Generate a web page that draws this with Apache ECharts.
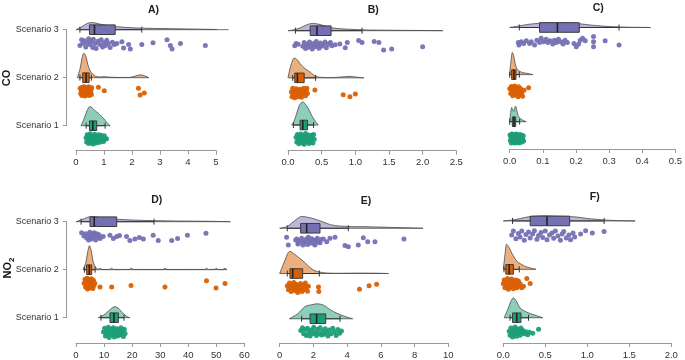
<!DOCTYPE html>
<html>
<head>
<meta charset="utf-8">
<script src="https://cdn.jsdelivr.net/npm/echarts@6/dist/echarts.min.js"></script>
<style>html,body{margin:0;padding:0;background:#fff}#c{width:685px;height:360px}</style>
</head>
<body>
<div id="c"></div>
<script>
// ---------------- DATA ----------------
const scenarios = ['Scenario 1', 'Scenario 2', 'Scenario 3'];
const panelKeys = ['A', 'B', 'C', 'D', 'E', 'F'];
const panelTitles = ['A)', 'B)', 'C)', 'D)', 'E)', 'F)'];
const rowTitles = ['CO', 'NO2'];
const xMax = [5, 2.5, 0.5, 60, 10, 2];
const xStep = [1, 0.5, 0.1, 10, 2, 0.5];
const xDecimals = [0, 1, 1, 0, 0, 1];

// half-violin density profiles: [x, height in category units]
const violinA3 = [[0,0],[0.2,0.06],[0.4,0.13],[0.55,0.15],[0.7,0.14],[0.9,0.11],[1.2,0.08],[1.5,0.06],[2.0,0.04],[2.5,0.03],[3.0,0.025],[3.5,0.02],[4.0,0.015],[4.5,0.01],[5.0,0.005],[5.45,0]];
const violinA2 = [[0.05,0],[0.15,0.2],[0.22,0.42],[0.28,0.51],[0.35,0.45],[0.42,0.28],[0.5,0.15],[0.6,0.07],[0.7,0.03],[0.85,0.015],[1.0,0.02],[1.2,0.012],[1.5,0.005],[1.9,0.006],[2.1,0.03],[2.3,0.06],[2.45,0.04],[2.6,0]];
const violinA1 = [[0.18,0],[0.3,0.16],[0.4,0.32],[0.5,0.40],[0.6,0.36],[0.7,0.30],[0.8,0.26],[0.9,0.2],[1.0,0.14],[1.1,0.07],[1.22,0]];
const violinB3 = [[0,0],[0.09,0.02],[0.18,0.06],[0.27,0.12],[0.36,0.155],[0.45,0.14],[0.55,0.1],[0.65,0.06],[0.8,0.04],[1.0,0.025],[1.2,0.015],[1.5,0.01],[1.8,0.006],[2.1,0.003],[2.3,0]];
const violinB2 = [[0,0],[0.04,0.25],[0.095,0.42],[0.14,0.38],[0.18,0.3],[0.25,0.2],[0.33,0.12],[0.41,0.03],[0.5,0.01],[0.65,0.005],[0.8,0.02],[0.92,0.03],[1.02,0.015],[1.13,0]];
const violinB1 = [[0.055,0],[0.09,0.08],[0.13,0.25],[0.17,0.42],[0.22,0.49],[0.27,0.42],[0.32,0.3],[0.36,0.18],[0.41,0.07],[0.45,0]];
const violinC3 = [[0,0],[0.03,0.035],[0.06,0.07],[0.09,0.09],[0.12,0.1],[0.15,0.1],[0.18,0.095],[0.21,0.08],[0.24,0.055],[0.27,0.035],[0.3,0.02],[0.33,0.012],[0.36,0.006],[0.4,0.002],[0.425,0]];
const violinC2 = [[0,0],[0.004,0.3],[0.008,0.47],[0.012,0.4],[0.016,0.25],[0.02,0.15],[0.025,0.1],[0.03,0.07],[0.04,0.04],[0.05,0.03],[0.06,0.015],[0.07,0]];
const violinC1 = [[0,0],[0.003,0.2],[0.006,0.3],[0.009,0.25],[0.012,0.22],[0.015,0.3],[0.018,0.33],[0.021,0.25],[0.025,0.14],[0.03,0.08],[0.04,0.03],[0.05,0]];
const violinD3 = [[0,0],[2,0.04],[4,0.09],[5.5,0.11],[7,0.1],[9,0.08],[12,0.06],[15,0.05],[20,0.035],[25,0.025],[30,0.02],[35,0.015],[40,0.012],[45,0.01],[50,0.006],[55,0]];
const violinD2 = [[2.5,0],[3.5,0.15],[4.2,0.38],[4.8,0.5],[5.4,0.4],[6.2,0.15],[7.2,0.03],[8.0,0.01],[8.6,0.03],[9.3,0.005],[12.0,0.005],[12.7,0.03],[13.4,0.005],[19.0,0.005],[19.7,0.03],[20.4,0.005],[31.0,0.005],[31.7,0.03],[32.4,0.005],[45.8,0.005],[46.5,0.03],[47.2,0.005],[49.3,0.005],[50.0,0.03],[50.7,0.005],[52.4,0.005],[53.1,0.03],[53.8,0]];
const violinD1 = [[7.95,0],[9,0.03],[10,0.06],[11,0.11],[12,0.16],[13,0.21],[14,0.23],[15,0.2],[16,0.14],[17,0.08],[18,0.03],[19.2,0]];
const violinE3 = [[0,0],[0.45,0.04],[0.9,0.17],[1.3,0.26],[1.7,0.24],[2.1,0.2],[2.5,0.15],[3.0,0.08],[3.5,0.05],[4.0,0.04],[4.5,0.035],[5.0,0.035],[5.5,0.03],[6.0,0.025],[7.0,0.015],[8.0,0.005],[8.5,0]];
const violinE2 = [[0,0],[0.3,0.28],[0.6,0.49],[0.9,0.42],[1.2,0.33],[1.5,0.24],[1.8,0.13],[2.1,0.06],[2.4,0.03],[2.8,0.01],[3.5,0.005],[4.5,0.008],[5.3,0.008],[6.0,0.004],[6.45,0]];
const violinE1 = [[0.57,0],[1.1,0.12],[1.5,0.27],[1.9,0.31],[2.23,0.33],[2.6,0.3],[3.0,0.2],[3.4,0.12],[3.8,0.06],[4.05,0.03],[4.33,0]];
const violinF3 = [[0,0],[0.11,0.02],[0.2,0.05],[0.3,0.085],[0.4,0.1],[0.5,0.105],[0.6,0.1],[0.7,0.095],[0.8,0.09],[0.9,0.075],[1.0,0.05],[1.1,0.035],[1.2,0.02],[1.35,0.008],[1.57,0]];
const violinF2 = [[0,0],[0.02,0.3],[0.04,0.52],[0.07,0.45],[0.1,0.34],[0.13,0.25],[0.16,0.17],[0.2,0.12],[0.24,0.08],[0.28,0.05],[0.33,0.025],[0.39,0]];
const violinF1 = [[0.01,0],[0.06,0.2],[0.09,0.34],[0.12,0.41],[0.15,0.36],[0.2,0.2],[0.25,0.14],[0.3,0.1],[0.35,0.07],[0.4,0.04],[0.47,0]];

// boxplots: [whisker low, Q1, median, Q3, whisker high]
const boxA3 = [0.14,0.48,0.66,1.40,2.35];
const boxA2 = [0.14,0.24,0.36,0.47,0.55];
const boxA1 = [0.36,0.48,0.60,0.74,1.04];
const boxB3 = [0.11,0.33,0.43,0.64,1.10];
const boxB2 = [0.07,0.10,0.14,0.24,0.41];
const boxB1 = [0.08,0.18,0.22,0.29,0.38];
const boxC3 = [0.029,0.09,0.144,0.21,0.33];
const boxC2 = [0.0,0.006,0.013,0.019,0.029];
const boxC1 = [0.0,0.008,0.013,0.018,0.03];
const boxD3 = [1.8,5.0,6.5,14.5,27.8];
const boxD2 = [3.0,3.8,4.75,5.6,6.8];
const boxD1 = [8.9,12.1,13.5,15.1,17.1];
const boxE3 = [0.45,1.24,1.6,2.39,4.07];
const boxE2 = [0.45,0.61,0.77,1.36,2.35];
const boxE1 = [1.30,1.80,2.19,2.73,3.58];
const boxF3 = [0.11,0.32,0.52,0.79,1.20];
const boxF2 = [0.008,0.03,0.07,0.12,0.19];
const boxF1 = [0.08,0.11,0.16,0.21,0.30];

// raw points: [value, jitter below the category line (category units)]
const dotsA3 = [[0.14,0.33],[0.20,0.21],[0.24,0.29],[0.30,0.23],[0.35,0.36],[0.40,0.27],[0.45,0.19],[0.50,0.31],[0.55,0.25],[0.60,0.37],[0.62,0.20],[0.68,0.29],[0.72,0.39],[0.78,0.24],[0.85,0.31],[0.90,0.21],[0.95,0.36],[1.00,0.27],[1.05,0.33],[1.10,0.22],[1.15,0.29],[1.22,0.37],[1.30,0.26],[1.37,0.31],[1.46,0.29],[1.64,0.25],[1.70,0.38],[1.88,0.31],[1.94,0.40],[2.35,0.31],[2.75,0.27],[3.25,0.21],[3.37,0.33],[3.43,0.40],[3.73,0.29],[4.62,0.33]];
const dotsA2 = [[0.15,0.22],[0.17,0.33],[0.19,0.27],[0.21,0.37],[0.22,0.20],[0.24,0.30],[0.26,0.24],[0.27,0.35],[0.29,0.19],[0.30,0.28],[0.32,0.38],[0.33,0.23],[0.35,0.32],[0.36,0.26],[0.38,0.36],[0.39,0.21],[0.41,0.30],[0.42,0.24],[0.44,0.34],[0.45,0.19],[0.47,0.28],[0.48,0.37],[0.50,0.23],[0.52,0.31],[0.53,0.26],[0.55,0.35],[0.56,0.21],[0.80,0.20],[1.01,0.27],[2.23,0.22],[2.29,0.36],[2.44,0.32]];
const dotsA1 = [[0.36,0.25],[0.38,0.34],[0.40,0.19],[0.42,0.29],[0.45,0.37],[0.47,0.22],[0.49,0.31],[0.51,0.17],[0.53,0.27],[0.55,0.36],[0.57,0.21],[0.59,0.30],[0.61,0.38],[0.63,0.24],[0.65,0.33],[0.67,0.18],[0.69,0.28],[0.71,0.36],[0.73,0.22],[0.75,0.31],[0.77,0.26],[0.79,0.35],[0.81,0.19],[0.83,0.29],[0.85,0.24],[0.87,0.34],[0.89,0.20],[0.92,0.30],[0.95,0.25],[0.98,0.33],[1.01,0.21],[1.04,0.28],[1.09,0.27]];
const dotsB3 = [[0.10,0.32],[0.12,0.27],[0.15,0.29],[0.22,0.33],[0.24,0.25],[0.26,0.38],[0.28,0.29],[0.30,0.35],[0.32,0.24],[0.34,0.31],[0.36,0.39],[0.38,0.27],[0.40,0.34],[0.42,0.23],[0.44,0.30],[0.46,0.37],[0.48,0.26],[0.50,0.33],[0.53,0.29],[0.55,0.24],[0.57,0.36],[0.60,0.28],[0.63,0.25],[0.65,0.32],[0.70,0.30],[0.77,0.28],[0.85,0.36],[0.88,0.25],[1.05,0.21],[1.10,0.25],[1.28,0.23],[1.35,0.25],[1.42,0.41],[1.54,0.39],[2.00,0.34]];
const dotsB2 = [[0.05,0.30],[0.06,0.40],[0.07,0.22],[0.08,0.34],[0.09,0.27],[0.10,0.42],[0.11,0.31],[0.12,0.23],[0.13,0.37],[0.14,0.28],[0.15,0.40],[0.16,0.33],[0.17,0.24],[0.18,0.36],[0.19,0.29],[0.20,0.41],[0.21,0.26],[0.22,0.34],[0.23,0.22],[0.24,0.31],[0.26,0.38],[0.27,0.27],[0.28,0.22],[0.29,0.33],[0.40,0.26],[0.82,0.36],[0.92,0.40],[1.00,0.34]];
const dotsB1 = [[0.12,0.26],[0.13,0.36],[0.14,0.20],[0.15,0.31],[0.16,0.40],[0.17,0.24],[0.18,0.34],[0.19,0.19],[0.20,0.29],[0.21,0.38],[0.22,0.23],[0.23,0.33],[0.24,0.41],[0.25,0.27],[0.26,0.18],[0.27,0.36],[0.28,0.25],[0.29,0.32],[0.30,0.21],[0.31,0.39],[0.32,0.28],[0.33,0.35],[0.34,0.22],[0.35,0.31],[0.36,0.26],[0.37,0.38],[0.38,0.20],[0.39,0.30]];
const dotsC3 = [[0.026,0.32],[0.028,0.37],[0.035,0.30],[0.042,0.34],[0.050,0.28],[0.060,0.34],[0.065,0.30],[0.075,0.37],[0.082,0.27],[0.090,0.32],[0.095,0.23],[0.102,0.30],[0.110,0.25],[0.115,0.32],[0.122,0.28],[0.130,0.35],[0.135,0.27],[0.141,0.32],[0.147,0.25],[0.154,0.30],[0.161,0.35],[0.167,0.27],[0.174,0.32],[0.194,0.34],[0.201,0.41],[0.208,0.35],[0.213,0.27],[0.220,0.23],[0.228,0.28],[0.253,0.19],[0.253,0.30],[0.253,0.41],[0.288,0.28],[0.330,0.37]];
const dotsC2 = [[0.000,0.30],[0.003,0.40],[0.005,0.25],[0.007,0.35],[0.009,0.45],[0.011,0.28],[0.013,0.38],[0.015,0.24],[0.017,0.33],[0.019,0.43],[0.021,0.29],[0.023,0.37],[0.025,0.47],[0.027,0.26],[0.029,0.35],[0.031,0.42],[0.033,0.30],[0.036,0.39],[0.039,0.46],[0.043,0.33],[0.057,0.28]];
const dotsC1 = [[0.001,0.28],[0.002,0.40],[0.004,0.33],[0.005,0.45],[0.007,0.26],[0.008,0.37],[0.010,0.30],[0.011,0.43],[0.013,0.27],[0.014,0.36],[0.016,0.45],[0.017,0.31],[0.019,0.39],[0.020,0.26],[0.022,0.34],[0.023,0.44],[0.025,0.29],[0.026,0.38],[0.028,0.32],[0.029,0.45],[0.031,0.27],[0.032,0.40],[0.034,0.34],[0.036,0.29],[0.037,0.43],[0.039,0.36],[0.041,0.30],[0.042,0.41]];
const dotsD3 = [[2.0,0.23],[2.8,0.30],[3.5,0.25],[3.8,0.34],[4.2,0.27],[4.5,0.38],[4.9,0.22],[5.2,0.31],[5.5,0.36],[5.8,0.26],[6.1,0.33],[6.4,0.23],[6.7,0.29],[7.0,0.38],[7.4,0.25],[7.8,0.32],[8.2,0.27],[8.6,0.35],[9.7,0.31],[12.1,0.28],[13.3,0.35],[14.5,0.31],[15.5,0.29],[18.0,0.31],[19.2,0.39],[21.0,0.36],[22.6,0.33],[24.0,0.36],[27.5,0.28],[29.3,0.39],[34.1,0.39],[36.2,0.35],[39.7,0.28],[46.3,0.24]];
const dotsD2 = [[2.9,0.28],[3.2,0.20],[3.4,0.36],[3.6,0.25],[3.8,0.32],[4.0,0.18],[4.1,0.40],[4.3,0.27],[4.5,0.34],[4.6,0.21],[4.8,0.38],[5.0,0.29],[5.1,0.23],[5.3,0.35],[5.5,0.19],[5.6,0.31],[5.8,0.26],[6.0,0.39],[6.2,0.22],[6.4,0.33],[6.7,0.28],[8.55,0.36],[12.7,0.36],[19.6,0.33],[31.7,0.36],[46.5,0.23],[49.9,0.38],[53.1,0.29]];
const dotsD1 = [[9.8,0.30],[10.2,0.22],[10.5,0.38],[10.9,0.27],[11.2,0.34],[11.5,0.20],[11.8,0.41],[12.1,0.29],[12.4,0.24],[12.7,0.36],[13.0,0.31],[13.3,0.21],[13.6,0.40],[13.9,0.27],[14.2,0.34],[14.5,0.23],[14.8,0.38],[15.1,0.30],[15.4,0.25],[15.7,0.36],[16.0,0.21],[16.3,0.32],[16.6,0.27],[16.9,0.39],[17.2,0.24],[17.5,0.33]];
const dotsE3 = [[0.41,0.20],[0.51,0.37],[0.95,0.26],[1.01,0.24],[1.08,0.35],[1.11,0.33],[1.20,0.28],[1.30,0.22],[1.38,0.37],[1.45,0.30],[1.50,0.30],[1.58,0.24],[1.65,0.36],[1.70,0.20],[1.78,0.29],[1.80,0.33],[1.90,0.23],[1.99,0.26],[2.05,0.34],[2.09,0.37],[2.15,0.27],[2.23,0.22],[2.30,0.31],[2.39,0.32],[2.45,0.25],[2.59,0.24],[2.79,0.30],[2.98,0.22],[3.28,0.20],[3.87,0.38],[4.07,0.41],[4.66,0.37],[4.96,0.21],[5.22,0.30],[5.65,0.30],[7.37,0.24]];
const dotsE2 = [[0.45,0.27],[0.52,0.36],[0.58,0.21],[0.63,0.31],[0.68,0.40],[0.72,0.25],[0.78,0.34],[0.83,0.20],[0.88,0.29],[0.92,0.38],[0.97,0.24],[1.02,0.33],[1.07,0.42],[1.12,0.27],[1.18,0.36],[1.23,0.22],[1.28,0.31],[1.33,0.40],[1.40,0.26],[1.46,0.35],[1.52,0.21],[1.58,0.30],[1.65,0.39],[1.70,0.28],[2.30,0.30],[2.32,0.40],[4.73,0.35],[5.30,0.27],[5.75,0.24]];
const dotsE1 = [[1.25,0.26],[1.35,0.20],[1.42,0.33],[1.50,0.24],[1.58,0.37],[1.65,0.21],[1.72,0.30],[1.80,0.38],[1.88,0.25],[1.95,0.33],[2.02,0.19],[2.10,0.29],[2.18,0.37],[2.25,0.23],[2.33,0.32],[2.40,0.20],[2.48,0.36],[2.55,0.27],[2.62,0.34],[2.70,0.22],[2.78,0.31],[2.86,0.38],[2.95,0.25],[3.05,0.33],[3.15,0.21],[3.25,0.29],[3.35,0.37],[3.45,0.24],[3.55,0.32],[3.66,0.27]];
const dotsF3 = [[0.10,0.29],[0.12,0.21],[0.15,0.37],[0.18,0.26],[0.20,0.33],[0.22,0.21],[0.25,0.40],[0.27,0.28],[0.30,0.23],[0.32,0.35],[0.35,0.27],[0.37,0.20],[0.40,0.38],[0.42,0.30],[0.45,0.24],[0.47,0.34],[0.50,0.21],[0.52,0.39],[0.55,0.29],[0.58,0.25],[0.60,0.36],[0.62,0.21],[0.65,0.31],[0.68,0.40],[0.70,0.27],[0.72,0.22],[0.75,0.35],[0.78,0.29],[0.80,0.39],[0.83,0.25],[0.85,0.33],[0.92,0.27],[0.98,0.20],[1.06,0.25],[1.20,0.22]];
const dotsF2 = [[0.00,0.30],[0.01,0.22],[0.02,0.38],[0.03,0.27],[0.04,0.34],[0.05,0.19],[0.06,0.41],[0.07,0.29],[0.08,0.24],[0.09,0.36],[0.10,0.20],[0.11,0.32],[0.12,0.40],[0.13,0.26],[0.14,0.34],[0.15,0.22],[0.16,0.38],[0.17,0.29],[0.18,0.24],[0.19,0.35],[0.20,0.30],[0.22,0.38],[0.24,0.35],[0.28,0.19],[0.32,0.29]];
const dotsF1 = [[0.07,0.28],[0.08,0.36],[0.09,0.21],[0.10,0.32],[0.11,0.40],[0.12,0.25],[0.13,0.34],[0.14,0.19],[0.15,0.29],[0.16,0.38],[0.17,0.23],[0.18,0.33],[0.19,0.27],[0.20,0.36],[0.21,0.21],[0.22,0.30],[0.23,0.26],[0.25,0.33],[0.27,0.29],[0.29,0.35],[0.31,0.30],[0.35,0.32],[0.42,0.24]];

// ---------------- LAYOUT / STYLE ----------------
const gridLeft = [76, 288, 509.7, 76, 279.7, 503.3];
const gridWidth = [140, 168.3, 168.6, 168.4, 168.6, 168];
const rowS3 = [29.7, 30.7, 27.5, 221.7, 228.3, 221];
const rowS1 = [125.7, 125, 121.7, 317.7, 319, 318];
const axisY = [150.7, 150.7, 149, 343, 343.3, 343.3];
const titlePos = [[153.5, 9.7], [373.3, 10.3], [598.3, 8.3], [156.7, 200.3], [366, 201], [594.7, 197]];

const dotColor = {3: '#7570b3', 2: '#d95f02', 1: '#1b9e77'};
const violinFill = {3: 'rgba(117,112,179,0.5)', 2: 'rgba(217,95,2,0.5)', 1: 'rgba(27,158,119,0.5)'};

const V = {A3:violinA3,A2:violinA2,A1:violinA1,B3:violinB3,B2:violinB2,B1:violinB1,C3:violinC3,C2:violinC2,C1:violinC1,D3:violinD3,D2:violinD2,D1:violinD1,E3:violinE3,E2:violinE2,E1:violinE1,F3:violinF3,F2:violinF2,F1:violinF1};
const BX = {A3:boxA3,A2:boxA2,A1:boxA1,B3:boxB3,B2:boxB2,B1:boxB1,C3:boxC3,C2:boxC2,C1:boxC1,D3:boxD3,D2:boxD2,D1:boxD1,E3:boxE3,E2:boxE2,E1:boxE1,F3:boxF3,F2:boxF2,F1:boxF1};
const DT = {A3:dotsA3,A2:dotsA2,A1:dotsA1,B3:dotsB3,B2:dotsB2,B1:dotsB1,C3:dotsC3,C2:dotsC2,C1:dotsC1,D3:dotsD3,D2:dotsD2,D1:dotsD1,E3:dotsE3,E2:dotsE2,E1:dotsE1,F3:dotsF3,F2:dotsF2,F1:dotsF1};

const FONT = 'Liberation Sans, Arial, sans-serif';
const grids = [], xAxes = [], yAxes = [], series = [];

panelKeys.forEach((P, i) => {
  const u = (rowS1[i] - rowS3[i]) / 2;
  const top = rowS3[i] - 0.5 * u;
  grids.push({left: gridLeft[i], top: top, width: gridWidth[i], height: axisY[i] - top, containLabel: false});
  xAxes.push({
    type: 'value', gridIndex: i, min: 0, max: xMax[i], interval: xStep[i],
    axisLine: {show: true, lineStyle: {color: '#9a9a9a', width: 1}},
    axisTick: {show: true, length: 4, lineStyle: {color: '#9a9a9a'}},
    axisLabel: {fontSize: 9.5, color: '#333', fontFamily: FONT, margin: 7,
      formatter: v => Number(v).toFixed(xDecimals[i])},
    splitLine: {show: false}
  });
  yAxes.push({type: 'value', gridIndex: i, min: 1 - (axisY[i] - rowS1[i]) / u, max: 3.5, show: false});

  [3, 2, 1].forEach(s => {
    const key = P + s;
    const v = V[key], b = BX[key];
    series.push({
      type: 'line', xAxisIndex: i, yAxisIndex: i, silent: true, clip: false,
      data: v.map(([x, h]) => [x, s + h]),
      smooth: 0.3, symbol: 'none',
      lineStyle: {color: '#4a4a4a', width: 0.8},
      areaStyle: {color: violinFill[s], opacity: 1, origin: s},
      z: 2
    });
    series.push({
      type: 'scatter', xAxisIndex: i, yAxisIndex: i, silent: true, clip: false,
      data: DT[key].map(([x, o]) => [x, s - o]),
      symbol: 'circle', symbolSize: 5,
      itemStyle: {color: dotColor[s], opacity: 0.95},
      z: 3
    });
    series.push({
      type: 'custom', xAxisIndex: i, yAxisIndex: i, silent: true, clip: false,
      data: [[s, v[0][0], v[v.length - 1][0], b[0], b[1], b[2], b[3], b[4]]],
      encode: {x: [1, 2, 3, 4, 5, 6, 7], y: 0},
      z: 4,
      renderItem: (params, api) => {
        const cat = api.value(0);
        const pt = k => api.coord([api.value(k), cat]);
        const a = pt(1), z = pt(2), wl = pt(3), q1 = pt(4), md = pt(5), q3 = pt(6), wh = pt(7);
        const cy = a[1], hh = 4.8, th = 3;
        return {type: 'group', children: [
          {type: 'line', shape: {x1: a[0], y1: cy, x2: z[0], y2: cy}, style: {stroke: '#4a4a4a', lineWidth: 0.8}},
          {type: 'line', shape: {x1: wl[0], y1: cy, x2: wh[0], y2: cy}, style: {stroke: '#333', lineWidth: 1}},
          {type: 'line', shape: {x1: wl[0], y1: cy - th, x2: wl[0], y2: cy + th}, style: {stroke: '#333', lineWidth: 1}},
          {type: 'line', shape: {x1: wh[0], y1: cy - th, x2: wh[0], y2: cy + th}, style: {stroke: '#333', lineWidth: 1}},
          {type: 'rect', shape: {x: q1[0], y: cy - hh, width: Math.max(q3[0] - q1[0], 1), height: 2 * hh},
            style: {fill: dotColor[cat], stroke: '#3c3c3c', lineWidth: 1}},
          {type: 'line', shape: {x1: md[0], y1: cy - hh, x2: md[0], y2: cy + hh}, style: {stroke: '#222', lineWidth: 1.6}}
        ]};
      }
    });
  });
});

// scenario label axes for panels A and D
[0, 3].forEach((pi, k) => {
  const gi = 6 + k;
  grids.push({left: 66.7, top: rowS3[pi], width: 4, height: rowS1[pi] - rowS3[pi]});
  xAxes.push({type: 'value', gridIndex: gi, show: false, min: 0, max: 1});
  yAxes.push({
    type: 'category', gridIndex: gi, data: scenarios, boundaryGap: false,
    axisLine: {show: true, lineStyle: {color: '#9a9a9a'}},
    axisTick: {show: true, length: 4, alignWithLabel: true, lineStyle: {color: '#9a9a9a'}},
    axisLabel: {fontSize: 9, color: '#333', fontFamily: FONT, margin: 8},
    splitLine: {show: false}
  });
});

const graphics = panelTitles.map((t, i) => ({
  type: 'text', x: titlePos[i][0], y: titlePos[i][1], silent: true,
  style: {text: t, fill: '#222', font: 'bold 10.5px ' + FONT, textAlign: 'center', textVerticalAlign: 'middle'}
}));
graphics.push({
  type: 'text', x: 7, y: 78, rotation: Math.PI / 2, silent: true,
  style: {text: rowTitles[0], fill: '#111', font: 'bold 11px ' + FONT, textAlign: 'center', textVerticalAlign: 'middle'}
});
graphics.push({
  type: 'text', x: 8, y: 268, rotation: Math.PI / 2, silent: true,
  style: {text: '{a|' + rowTitles[1].slice(0, 2) + '}{b|' + rowTitles[1].slice(2) + '}', textAlign: 'center', textVerticalAlign: 'middle',
    rich: {a: {fontSize: 11, fontWeight: 'bold', fontFamily: FONT, fill: '#111', color: '#111', lineHeight: 16},
           b: {fontSize: 8, fontWeight: 'bold', fontFamily: FONT, fill: '#111', color: '#111', lineHeight: 16, verticalAlign: 'bottom', padding: [5, 0, 0, 0]}}}
});

const chart = echarts.init(document.getElementById('c'), null, {renderer: 'canvas'});
chart.setOption({
  animation: false,
  backgroundColor: '#fff',
  grid: grids, xAxis: xAxes, yAxis: yAxes, series: series, graphic: graphics
});
</script>
</body>
</html>
